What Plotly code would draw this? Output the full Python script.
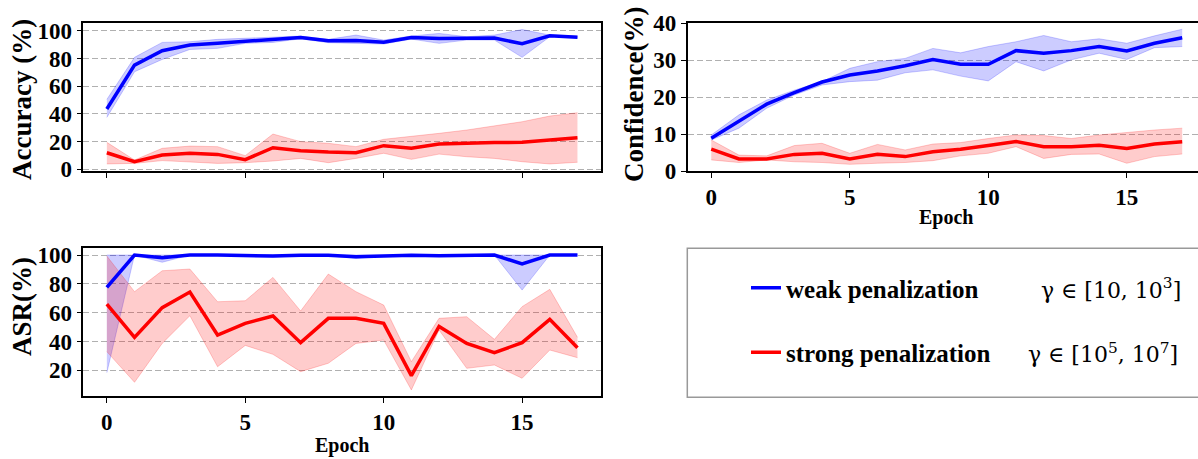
import plotly.graph_objects as go

W, H = 1198, 459

epochs = list(range(18))
x_ticks = [0, 5, 10, 15]

# Accuracy (%)
acc_weak_mean = [43.6, 75.3, 85.7, 89.8, 91.0, 92.4, 93.6, 95.3, 92.9, 93.1, 91.9, 95.3, 94.6, 94.6, 94.8, 90.7, 96.5, 95.5]
acc_weak_hi = [50.5, 80.9, 91.7, 92.2, 93.9, 94.6, 95.1, 96.3, 93.9, 97.0, 93.4, 96.3, 98.2, 95.8, 97.0, 101.0, 97.0, 96.3]
acc_weak_lo = [37.5, 70.5, 79.4, 86.6, 87.4, 91.0, 91.7, 94.3, 91.5, 91.0, 90.5, 94.1, 91.0, 93.4, 93.4, 80.9, 95.8, 95.1]
acc_strong_mean = [12.0, 5.5, 10.3, 11.6, 10.8, 7.0, 15.6, 13.5, 12.5, 12.0, 17.1, 15.2, 18.3, 19.0, 19.3, 19.5, 21.2, 22.9]
acc_strong_hi = [19.5, 6.7, 15.2, 16.8, 16.4, 9.9, 25.5, 20.0, 18.8, 16.4, 21.7, 23.6, 26.0, 28.4, 31.3, 34.4, 38.5, 40.9]
acc_strong_lo = [3.9, 4.3, 6.3, 5.1, 4.3, 4.8, 6.0, 7.9, 4.8, 7.9, 11.6, 7.2, 11.0, 9.1, 7.9, 5.5, 3.9, 5.1]

# Confidence (%)
conf_weak_mean = [8.85, 13.4, 18.1, 21.2, 24.1, 26.0, 27.1, 28.5, 30.2, 28.9, 28.9, 32.6, 31.9, 32.6, 33.7, 32.5, 34.6, 36.1]
conf_weak_hi = [9.75, 15.2, 19.2, 21.9, 24.2, 27.8, 29.6, 30.5, 33.2, 32.0, 33.7, 35.0, 36.7, 35.0, 35.8, 34.6, 36.6, 38.4]
conf_weak_lo = [8.4, 11.6, 17.0, 20.6, 23.3, 24.2, 24.6, 26.6, 27.4, 25.7, 24.4, 29.6, 27.1, 30.1, 31.9, 30.2, 33.4, 33.7]
conf_strong_mean = [5.9, 3.25, 3.25, 4.5, 4.8, 3.25, 4.5, 3.9, 5.2, 5.9, 6.9, 8.0, 6.6, 6.6, 7.0, 6.1, 7.3, 7.9]
conf_strong_hi = [8.4, 4.3, 4.1, 6.9, 7.5, 4.8, 7.2, 5.7, 7.3, 7.7, 8.8, 9.75, 9.6, 8.8, 9.75, 10.5, 11.1, 11.6]
conf_strong_lo = [3.0, 2.3, 3.0, 2.5, 2.3, 1.8, 2.1, 2.3, 2.8, 4.1, 4.8, 6.6, 3.4, 4.5, 4.6, 2.1, 3.9, 4.6]

# ASR (%)
asr_weak_mean = [77.6, 100, 98.2, 100, 100, 99.7, 99.3, 99.8, 99.8, 98.8, 99.6, 99.8, 99.5, 99.7, 100, 93.8, 100, 100]
asr_weak_hi = [100, 100, 99.5, 100, 100, 100, 100, 100, 100, 100, 100, 100, 100, 100, 100, 100, 100, 100]
asr_weak_lo = [18.4, 100, 95.0, 100, 100, 99.3, 98.6, 99.5, 99.5, 97.6, 99.2, 99.5, 99.0, 99.4, 100, 75.7, 100, 100]
asr_strong_mean = [66.0, 42.9, 63.5, 74.3, 44.5, 52.6, 57.7, 39.2, 56.1, 56.1, 52.6, 16.3, 50.5, 38.7, 32.3, 39.2, 55.4, 35.7]
asr_strong_hi = [99.3, 74.6, 89.1, 90.3, 67.6, 68.3, 84.5, 61.2, 86.8, 74.6, 65.3, 26.0, 56.1, 57.2, 41.5, 64.2, 76.2, 42.9]
asr_strong_lo = [33.0, 11.7, 38.7, 57.9, 22.5, 37.3, 31.1, 19.1, 24.9, 38.7, 41.0, 6.4, 48.0, 21.4, 23.7, 14.5, 34.1, 28.8]

MATH = '<span style="font-family:DejaVu Serif;font-weight:normal;font-size:22px">'
weak_name = "<b>weak penalization</b>" + "\u00a0" * 10 + MATH + "γ ∈ [10, 10<sup>3</sup>]</span>"
strong_name = "<b>strong penalization</b>" + "\u00a0" * 6 + MATH + "γ ∈ [10<sup>5</sup>, 10<sup>7</sup>]</span>"

BLUE = "#0000ff"
RED = "#ff0000"
BLUE_F = "rgba(0,0,255,0.2)"
RED_F = "rgba(255,0,0,0.2)"
FONT = "Liberation Serif, Times New Roman, serif"

fig = go.Figure()

panels = [
    ("x", "y", acc_weak_mean, acc_weak_hi, acc_weak_lo, acc_strong_mean, acc_strong_hi, acc_strong_lo, True),
    ("x2", "y2", conf_weak_mean, conf_weak_hi, conf_weak_lo, conf_strong_mean, conf_strong_hi, conf_strong_lo, False),
    ("x3", "y3", asr_weak_mean, asr_weak_hi, asr_weak_lo, asr_strong_mean, asr_strong_hi, asr_strong_lo, False),
]

for xa, ya, wm, wh, wl, sm, sh, sl, leg in panels:
    for hi, lo, fc in [(wh, wl, BLUE_F), (sh, sl, RED_F)]:
        fig.add_trace(go.Scatter(x=epochs, y=lo, mode="lines", line=dict(color=fc, width=1),
                                 xaxis=xa, yaxis=ya, showlegend=False, hoverinfo="skip"))
        fig.add_trace(go.Scatter(x=epochs, y=hi, mode="lines", line=dict(color=fc, width=1),
                                 fill="tonexty", fillcolor=fc,
                                 xaxis=xa, yaxis=ya, showlegend=False, hoverinfo="skip"))
    fig.add_trace(go.Scatter(x=epochs, y=wm, mode="lines", line=dict(color=BLUE, width=3.5),
                             xaxis=xa, yaxis=ya, name=weak_name, showlegend=leg, legendgroup="weak"))
    fig.add_trace(go.Scatter(x=epochs, y=sm, mode="lines", line=dict(color=RED, width=3.5),
                             xaxis=xa, yaxis=ya, name=strong_name, showlegend=leg, legendgroup="strong"))

tickfont = dict(family=FONT, size=23, color="black", weight="bold")


def px_x(p):
    return p / W


def px_y(p):
    return 1 - p / H


def xax(domain, rng, labels):
    return dict(domain=domain, range=rng, tickvals=x_ticks, showticklabels=labels,
                showline=True, linecolor="black", linewidth=1.5, mirror=True,
                ticks="outside", ticklen=5, tickwidth=1.3, tickcolor="black",
                showgrid=False, zeroline=False, tickfont=tickfont, fixedrange=True,
                automargin=False)


def yax(domain, rng, tickvals, anchor, mirror=True):
    return dict(domain=domain, range=rng, tickvals=tickvals, anchor=anchor,
                showline=True, linecolor="black", linewidth=1.5, mirror=mirror,
                ticks="outside", ticklen=5, tickwidth=1.3, tickcolor="black",
                showgrid=True, gridcolor="#b0b0b0", gridwidth=1.1, griddash="6px,3px",
                zeroline=False, tickfont=tickfont, fixedrange=True, automargin=False)


top_dom = [px_y(171), px_y(23.3)]
bot_dom = [px_y(396), px_y(247.7)]
left_dom = [px_x(83.3), px_x(601)]
right_dom = [px_x(687.7), 1.0]

fig.update_layout(
    template="none",
    width=W, height=H,
    margin=dict(l=0, r=0, t=0, b=0, autoexpand=False),
    paper_bgcolor="white", plot_bgcolor="white",
    font=dict(family=FONT, color="black"),
    xaxis=dict(**xax(left_dom, [-0.85, 17.85], False), anchor="y"),
    yaxis=yax(top_dom, [-1.2, 105.5], [0, 20, 40, 60, 80, 100], "x"),
    xaxis2=dict(**xax(right_dom, [-0.85, 17.57], True), anchor="y2"),
    yaxis2=yax(top_dom, [0, 40], [0, 10, 20, 30, 40], "x2", mirror=False),
    xaxis3=dict(**xax(left_dom, [-0.85, 17.85], True), anchor="y3"),
    yaxis3=yax(bot_dom, [2.2, 105.1], [20, 40, 60, 80, 100], "x3"),
    legend=dict(x=px_x(746), y=px_y(265), xanchor="left", yanchor="top",
                bgcolor="rgba(0,0,0,0)", borderwidth=0,
                font=dict(family=FONT, size=25, color="black"),
                traceorder="grouped", tracegroupgap=29),
    showlegend=True,
)

# legend frame
fig.add_shape(type="rect", xref="paper", yref="paper",
              x0=px_x(687.3), x1=1.02, y0=px_y(397.3), y1=px_y(248.3),
              line=dict(color="#999999", width=1.5), fillcolor="rgba(0,0,0,0)", layer="below")

title_font = dict(family=FONT, size=27, color="black", weight="bold")
epoch_font = dict(family=FONT, size=20, color="black", weight="bold")
ann = [
    dict(text="Accuracy (%)", x=px_x(22), y=px_y(100), textangle=-90, font=title_font),
    dict(text="Confidence(%)", x=px_x(634), y=px_y(95), textangle=-90, font=title_font),
    dict(text="ASR(%)", x=px_x(22), y=px_y(307), textangle=-90, font=title_font),
    dict(text="Epoch", x=px_x(946), y=px_y(218), font=epoch_font),
    dict(text="Epoch", x=px_x(342), y=px_y(445), font=epoch_font),
]
for a in ann:
    fig.add_annotation(xref="paper", yref="paper", showarrow=False,
                       xanchor="center", yanchor="middle", **a)

fig.write_html("out.html", post_script="document.body.style.margin='0px';",
               config={"displayModeBar": False})
